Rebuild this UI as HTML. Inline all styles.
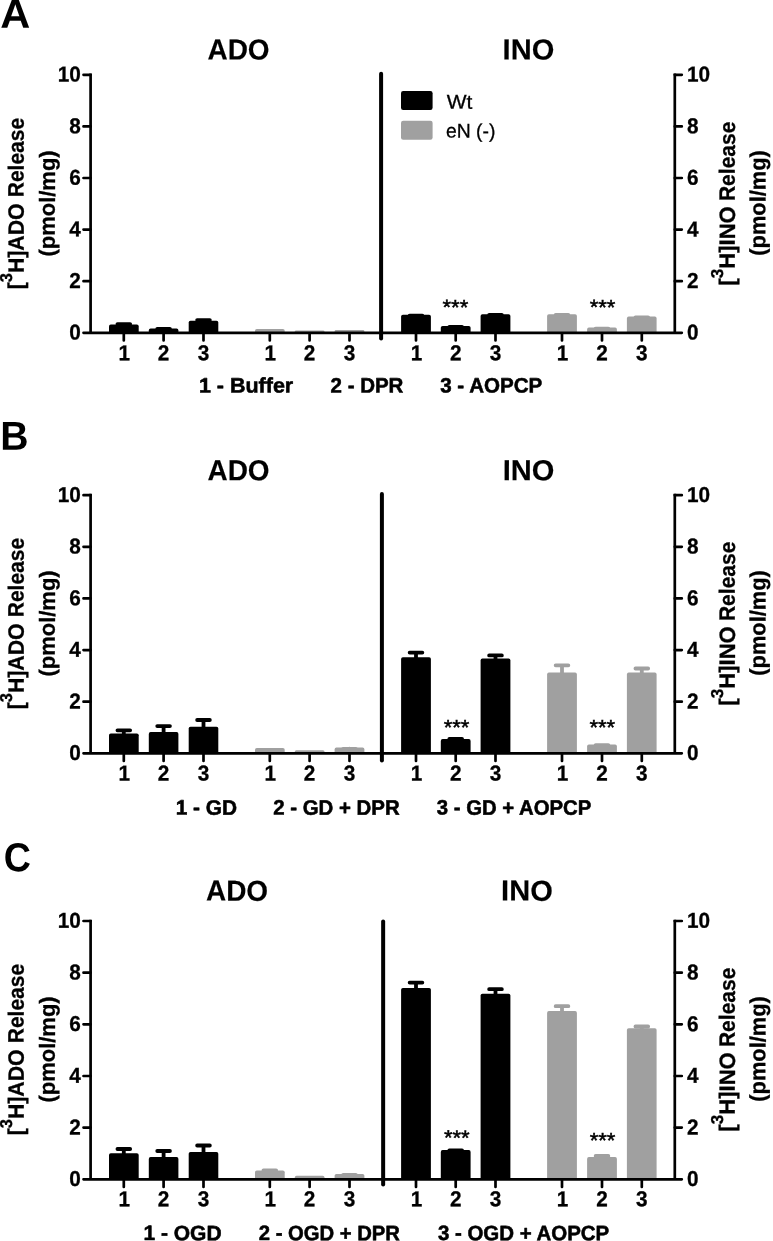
<!DOCTYPE html>
<html lang="en">
<head>
<meta charset="utf-8">
<title>Figure: ADO and INO release</title>
<style>
html,body{margin:0;padding:0;background:#fff;}
body{width:773px;height:1241px;overflow:hidden;}
svg{display:block;font-family:"Liberation Sans", sans-serif;font-weight:bold;text-rendering:geometricPrecision;}
text{fill:#000;}
.h{stroke:#000;stroke-width:0.55px;stroke-linejoin:round;}
.h2{stroke:#000;stroke-width:0.15px;}
.h3{stroke:#000;stroke-width:0.3px;stroke-linejoin:round;}
.s{stroke:#000;stroke-width:0.5px;}
.r{stroke:#000;stroke-width:0.3px;}
.t{stroke:#000;stroke-width:0.3px;}
</style>
</head>
<body>
<svg width="773" height="1241" viewBox="0 0 773 1241">
<rect width="773" height="1241" fill="#fff"/>
<g>
<text x="0.36" y="27.80" transform="rotate(0.1 0.36 27.80)" font-size="40.5" textLength="30.03" lengthAdjust="spacingAndGlyphs">A</text>
<text x="207.48" y="59.50" transform="rotate(0.1 207.48 59.50)" font-size="29.0" textLength="62.11" lengthAdjust="spacingAndGlyphs" class="h2">ADO</text>
<text x="502.64" y="59.50" transform="rotate(0.1 502.64 59.50)" font-size="29.0" textLength="51.60" lengthAdjust="spacingAndGlyphs" class="h2">INO</text>
<path d="M123.8 325.6V324.1M117.45 324.1H130.15" stroke="#000" stroke-width="3.8" stroke-linecap="round" fill="none"/>
<path d="M109.0 332.8V326.4Q109.0 324.6 110.8 324.6H136.8Q138.7 324.6 138.7 326.4V332.8Z" fill="#000"/>
<path d="M163.6 329.6V328.9M157.25 328.9H169.95" stroke="#000" stroke-width="3.8" stroke-linecap="round" fill="none"/>
<path d="M148.8 332.8V330.4Q148.8 328.6 150.6 328.6H176.6Q178.4 328.6 178.4 330.4V332.8Z" fill="#000"/>
<path d="M203.5 321.7V320.1M197.15 320.1H209.85" stroke="#000" stroke-width="3.8" stroke-linecap="round" fill="none"/>
<path d="M188.7 332.8V322.5Q188.7 320.7 190.5 320.7H216.5Q218.3 320.7 218.3 322.5V332.8Z" fill="#000"/>
<path d="M255.0 332.8V330.8Q255.0 329.0 256.8 329.0H282.9Q284.7 329.0 284.7 330.8V332.8Z" fill="#a0a0a0"/>
<path d="M294.8 332.8V331.6Q294.8 330.4 296.0 330.4H323.2Q324.5 330.4 324.5 331.6V332.8Z" fill="#a0a0a0"/>
<path d="M334.6 332.8V331.4Q334.6 330.0 336.0 330.0H363.0Q364.4 330.0 364.4 331.4V332.8Z" fill="#a0a0a0"/>
<path d="M416.0 315.8V315.6M409.65 315.6H422.35" stroke="#000" stroke-width="3.8" stroke-linecap="round" fill="none"/>
<path d="M401.1 332.8V316.6Q401.1 314.8 402.9 314.8H429.1Q430.9 314.8 430.9 316.6V332.8Z" fill="#000"/>
<path d="M455.7 327.0V326.9M449.35 326.9H462.05" stroke="#000" stroke-width="3.8" stroke-linecap="round" fill="none"/>
<path d="M440.8 332.8V327.8Q440.8 326.0 442.6 326.0H468.8Q470.6 326.0 470.6 327.8V332.8Z" fill="#000"/>
<path d="M495.5 315.2V315.0M489.15 315.0H501.85" stroke="#000" stroke-width="3.8" stroke-linecap="round" fill="none"/>
<path d="M480.6 332.8V316.0Q480.6 314.2 482.4 314.2H508.6Q510.4 314.2 510.4 316.0V332.8Z" fill="#000"/>
<path d="M562.0 315.2V315.0M555.65 315.0H568.35" stroke="#a0a0a0" stroke-width="3.8" stroke-linecap="round" fill="none"/>
<path d="M547.1 332.8V316.0Q547.1 314.2 548.9 314.2H575.1Q576.9 314.2 576.9 316.0V332.8Z" fill="#a0a0a0"/>
<path d="M602.0 328.6V328.7M595.65 328.7H608.35" stroke="#a0a0a0" stroke-width="3.8" stroke-linecap="round" fill="none"/>
<path d="M587.1 332.8V329.4Q587.1 327.6 588.9 327.6H615.1Q616.9 327.6 616.9 329.4V332.8Z" fill="#a0a0a0"/>
<path d="M641.8 317.6V317.5M635.45 317.5H648.15" stroke="#a0a0a0" stroke-width="3.8" stroke-linecap="round" fill="none"/>
<path d="M626.9 332.8V318.4Q626.9 316.6 628.7 316.6H654.9Q656.6 316.6 656.6 318.4V332.8Z" fill="#a0a0a0"/>
<path d="M90.6 73.45V332.8M674.8 73.45V332.8" stroke="#000" stroke-width="2.7" fill="none"/>
<path d="M83.5 332.8H681.8M83.5 281.2H90.6M674.8 281.2H681.8M83.5 229.6H90.6M674.8 229.6H681.8M83.5 178.0H90.6M674.8 178.0H681.8M83.5 126.4H90.6M674.8 126.4H681.8M83.5 74.8H90.6M674.8 74.8H681.8M123.8 332.8V340.4M163.6 332.8V340.4M203.5 332.8V340.4M269.8 332.8V340.4M309.6 332.8V340.4M349.5 332.8V340.4M416.0 332.8V340.4M455.7 332.8V340.4M495.5 332.8V340.4M562.0 332.8V340.4M602.0 332.8V340.4M641.8 332.8V340.4" stroke="#000" stroke-width="2.7" stroke-linecap="round" fill="none"/>
<path d="M381.1 73.8V338.6" stroke="#000" stroke-width="4" stroke-linecap="round" fill="none"/>
<text x="80.90" y="339.60" transform="rotate(0.1 80.90 339.60)" font-size="21.5" text-anchor="end" textLength="11.54" lengthAdjust="spacingAndGlyphs" class="t">0</text>
<text x="687.00" y="339.60" transform="rotate(0.1 687.00 339.60)" font-size="21.5" textLength="11.54" lengthAdjust="spacingAndGlyphs" class="t">0</text>
<text x="80.90" y="288.00" transform="rotate(0.1 80.90 288.00)" font-size="21.5" text-anchor="end" textLength="11.54" lengthAdjust="spacingAndGlyphs" class="t">2</text>
<text x="687.00" y="288.00" transform="rotate(0.1 687.00 288.00)" font-size="21.5" textLength="11.54" lengthAdjust="spacingAndGlyphs" class="t">2</text>
<text x="80.90" y="236.40" transform="rotate(0.1 80.90 236.40)" font-size="21.5" text-anchor="end" textLength="11.54" lengthAdjust="spacingAndGlyphs" class="t">4</text>
<text x="687.00" y="236.40" transform="rotate(0.1 687.00 236.40)" font-size="21.5" textLength="11.54" lengthAdjust="spacingAndGlyphs" class="t">4</text>
<text x="80.90" y="184.80" transform="rotate(0.1 80.90 184.80)" font-size="21.5" text-anchor="end" textLength="11.54" lengthAdjust="spacingAndGlyphs" class="t">6</text>
<text x="687.00" y="184.80" transform="rotate(0.1 687.00 184.80)" font-size="21.5" textLength="11.54" lengthAdjust="spacingAndGlyphs" class="t">6</text>
<text x="80.90" y="133.20" transform="rotate(0.1 80.90 133.20)" font-size="21.5" text-anchor="end" textLength="11.54" lengthAdjust="spacingAndGlyphs" class="t">8</text>
<text x="687.00" y="133.20" transform="rotate(0.1 687.00 133.20)" font-size="21.5" textLength="11.54" lengthAdjust="spacingAndGlyphs" class="t">8</text>
<text x="80.90" y="81.60" transform="rotate(0.1 80.90 81.60)" font-size="21.5" text-anchor="end" textLength="23.08" lengthAdjust="spacingAndGlyphs" class="t">10</text>
<text x="687.00" y="81.60" transform="rotate(0.1 687.00 81.60)" font-size="21.5" textLength="23.08" lengthAdjust="spacingAndGlyphs" class="t">10</text>
<text x="124.20" y="360.20" transform="rotate(0.1 124.20 360.20)" font-size="21.5" text-anchor="middle" textLength="11.54" lengthAdjust="spacingAndGlyphs" class="t">1</text>
<text x="163.60" y="360.20" transform="rotate(0.1 163.60 360.20)" font-size="21.5" text-anchor="middle" textLength="11.54" lengthAdjust="spacingAndGlyphs" class="t">2</text>
<text x="203.50" y="360.20" transform="rotate(0.1 203.50 360.20)" font-size="21.5" text-anchor="middle" textLength="11.54" lengthAdjust="spacingAndGlyphs" class="t">3</text>
<text x="270.20" y="360.20" transform="rotate(0.1 270.20 360.20)" font-size="21.5" text-anchor="middle" textLength="11.54" lengthAdjust="spacingAndGlyphs" class="t">1</text>
<text x="309.60" y="360.20" transform="rotate(0.1 309.60 360.20)" font-size="21.5" text-anchor="middle" textLength="11.54" lengthAdjust="spacingAndGlyphs" class="t">2</text>
<text x="349.50" y="360.20" transform="rotate(0.1 349.50 360.20)" font-size="21.5" text-anchor="middle" textLength="11.54" lengthAdjust="spacingAndGlyphs" class="t">3</text>
<text x="416.40" y="360.20" transform="rotate(0.1 416.40 360.20)" font-size="21.5" text-anchor="middle" textLength="11.54" lengthAdjust="spacingAndGlyphs" class="t">1</text>
<text x="455.70" y="360.20" transform="rotate(0.1 455.70 360.20)" font-size="21.5" text-anchor="middle" textLength="11.54" lengthAdjust="spacingAndGlyphs" class="t">2</text>
<text x="495.50" y="360.20" transform="rotate(0.1 495.50 360.20)" font-size="21.5" text-anchor="middle" textLength="11.54" lengthAdjust="spacingAndGlyphs" class="t">3</text>
<text x="562.40" y="360.20" transform="rotate(0.1 562.40 360.20)" font-size="21.5" text-anchor="middle" textLength="11.54" lengthAdjust="spacingAndGlyphs" class="t">1</text>
<text x="602.00" y="360.20" transform="rotate(0.1 602.00 360.20)" font-size="21.5" text-anchor="middle" textLength="11.54" lengthAdjust="spacingAndGlyphs" class="t">2</text>
<text x="641.80" y="360.20" transform="rotate(0.1 641.80 360.20)" font-size="21.5" text-anchor="middle" textLength="11.54" lengthAdjust="spacingAndGlyphs" class="t">3</text>
<text x="198.92" y="392.40" transform="rotate(0.1 198.92 392.40)" font-size="20.9" textLength="94.33" lengthAdjust="spacingAndGlyphs" class="h">1 - Buffer</text>
<text x="330.56" y="392.40" transform="rotate(0.1 330.56 392.40)" font-size="20.9" textLength="72.88" lengthAdjust="spacingAndGlyphs" class="h">2 - DPR</text>
<text x="440.21" y="392.40" transform="rotate(0.1 440.21 392.40)" font-size="20.9" textLength="102.02" lengthAdjust="spacingAndGlyphs" class="h">3 - AOPCP</text>
<text x="455.40" y="314.40" transform="rotate(0.1 455.40 314.40)" font-size="21" font-weight="normal" text-anchor="middle" textLength="25.70" lengthAdjust="spacingAndGlyphs" class="s">***</text>
<text x="602.60" y="314.40" transform="rotate(0.1 602.60 314.40)" font-size="21" font-weight="normal" text-anchor="middle" textLength="25.70" lengthAdjust="spacingAndGlyphs" class="s">***</text>
<text transform="translate(23.6 288.3) rotate(-89.9)" x="-1.04" class="h3" font-size="22.2" textLength="85.89" lengthAdjust="spacingAndGlyphs">[<tspan font-size="17.2" dy="-11.7">3</tspan><tspan dy="11.7">H]ADO</tspan></text>
<text transform="translate(23.6 196.0) rotate(-89.9)" x="-1.25" class="h3" font-size="22.2" textLength="79.32" lengthAdjust="spacingAndGlyphs">Release</text>
<text transform="translate(54.8 255.6) rotate(-89.9)" x="-0.94" class="h3" font-size="22.2" textLength="106.19" lengthAdjust="spacingAndGlyphs">(pmol/mg)</text>
<text transform="translate(734.8 284.4) rotate(-89.9)" x="-1.09" class="h3" font-size="22.2" textLength="79.16" lengthAdjust="spacingAndGlyphs">[<tspan font-size="17.2" dy="-11.7">3</tspan><tspan dy="11.7">H]INO</tspan></text>
<text transform="translate(734.8 199.8) rotate(-89.9)" x="-1.26" class="h3" font-size="22.2" textLength="79.42" lengthAdjust="spacingAndGlyphs">Release</text>
<text transform="translate(765.3 254.7) rotate(-89.9)" x="-0.94" class="h3" font-size="22.2" textLength="105.37" lengthAdjust="spacingAndGlyphs">(pmol/mg)</text>
</g>
<g>
<text x="0.33" y="449.70" transform="rotate(0.1 0.33 449.70)" font-size="40.5" textLength="28.24" lengthAdjust="spacingAndGlyphs">B</text>
<text x="207.48" y="480.20" transform="rotate(0.1 207.48 480.20)" font-size="29.0" textLength="62.11" lengthAdjust="spacingAndGlyphs" class="h2">ADO</text>
<text x="502.64" y="480.20" transform="rotate(0.1 502.64 480.20)" font-size="29.0" textLength="51.60" lengthAdjust="spacingAndGlyphs" class="h2">INO</text>
<path d="M123.8 734.5V730.3M117.45 730.3H130.15" stroke="#000" stroke-width="3.8" stroke-linecap="round" fill="none"/>
<path d="M109.0 753.3V735.3Q109.0 733.5 110.8 733.5H136.8Q138.7 733.5 138.7 735.3V753.3Z" fill="#000"/>
<path d="M163.6 733.1V726.1M157.25 726.1H169.95" stroke="#000" stroke-width="3.8" stroke-linecap="round" fill="none"/>
<path d="M148.8 753.3V733.9Q148.8 732.1 150.6 732.1H176.6Q178.4 732.1 178.4 733.9V753.3Z" fill="#000"/>
<path d="M203.5 727.8V720.0M197.15 720.0H209.85" stroke="#000" stroke-width="3.8" stroke-linecap="round" fill="none"/>
<path d="M188.7 753.3V728.6Q188.7 726.8 190.5 726.8H216.5Q218.3 726.8 218.3 728.6V753.3Z" fill="#000"/>
<path d="M255.0 753.3V749.8Q255.0 748.0 256.8 748.0H282.9Q284.7 748.0 284.7 749.8V753.3Z" fill="#a0a0a0"/>
<path d="M294.8 753.3V751.8Q294.8 750.3 296.2 750.3H323.0Q324.5 750.3 324.5 751.8V753.3Z" fill="#a0a0a0"/>
<path d="M349.5 748.6V748.9M343.15 748.9H355.85" stroke="#a0a0a0" stroke-width="3.8" stroke-linecap="round" fill="none"/>
<path d="M334.6 753.3V749.4Q334.6 747.6 336.4 747.6H362.6Q364.4 747.6 364.4 749.4V753.3Z" fill="#a0a0a0"/>
<path d="M416.0 658.2V652.6M409.65 652.6H422.35" stroke="#000" stroke-width="3.8" stroke-linecap="round" fill="none"/>
<path d="M401.1 753.3V659.0Q401.1 657.2 402.9 657.2H429.1Q430.9 657.2 430.9 659.0V753.3Z" fill="#000"/>
<path d="M455.7 740.1V738.8M449.35 738.8H462.05" stroke="#000" stroke-width="3.8" stroke-linecap="round" fill="none"/>
<path d="M440.8 753.3V740.9Q440.8 739.1 442.6 739.1H468.8Q470.6 739.1 470.6 740.9V753.3Z" fill="#000"/>
<path d="M495.5 659.6V655.4M489.15 655.4H501.85" stroke="#000" stroke-width="3.8" stroke-linecap="round" fill="none"/>
<path d="M480.6 753.3V660.4Q480.6 658.6 482.4 658.6H508.6Q510.4 658.6 510.4 660.4V753.3Z" fill="#000"/>
<path d="M562.0 673.6V665.3M555.65 665.3H568.35" stroke="#a0a0a0" stroke-width="3.8" stroke-linecap="round" fill="none"/>
<path d="M547.1 753.3V674.4Q547.1 672.6 548.9 672.6H575.1Q576.9 672.6 576.9 674.4V753.3Z" fill="#a0a0a0"/>
<path d="M602.0 745.5V745.1M595.65 745.1H608.35" stroke="#a0a0a0" stroke-width="3.8" stroke-linecap="round" fill="none"/>
<path d="M587.1 753.3V746.3Q587.1 744.5 588.9 744.5H615.1Q616.9 744.5 616.9 746.3V753.3Z" fill="#a0a0a0"/>
<path d="M641.8 673.6V668.5M635.45 668.5H648.15" stroke="#a0a0a0" stroke-width="3.8" stroke-linecap="round" fill="none"/>
<path d="M626.9 753.3V674.4Q626.9 672.6 628.7 672.6H654.9Q656.6 672.6 656.6 674.4V753.3Z" fill="#a0a0a0"/>
<path d="M90.6 493.85V753.3M674.8 493.85V753.3" stroke="#000" stroke-width="2.7" fill="none"/>
<path d="M83.5 753.3H681.8M83.5 701.7H90.6M674.8 701.7H681.8M83.5 650.1H90.6M674.8 650.1H681.8M83.5 598.4H90.6M674.8 598.4H681.8M83.5 546.8H90.6M674.8 546.8H681.8M83.5 495.2H90.6M674.8 495.2H681.8M123.8 753.3V760.9M163.6 753.3V760.9M203.5 753.3V760.9M269.8 753.3V760.9M309.6 753.3V760.9M349.5 753.3V760.9M416.0 753.3V760.9M455.7 753.3V760.9M495.5 753.3V760.9M562.0 753.3V760.9M602.0 753.3V760.9M641.8 753.3V760.9" stroke="#000" stroke-width="2.7" stroke-linecap="round" fill="none"/>
<path d="M381.9 494.0V760.5" stroke="#000" stroke-width="4" stroke-linecap="round" fill="none"/>
<text x="80.90" y="760.10" transform="rotate(0.1 80.90 760.10)" font-size="21.5" text-anchor="end" textLength="11.54" lengthAdjust="spacingAndGlyphs" class="t">0</text>
<text x="687.00" y="760.10" transform="rotate(0.1 687.00 760.10)" font-size="21.5" textLength="11.54" lengthAdjust="spacingAndGlyphs" class="t">0</text>
<text x="80.90" y="708.48" transform="rotate(0.1 80.90 708.48)" font-size="21.5" text-anchor="end" textLength="11.54" lengthAdjust="spacingAndGlyphs" class="t">2</text>
<text x="687.00" y="708.48" transform="rotate(0.1 687.00 708.48)" font-size="21.5" textLength="11.54" lengthAdjust="spacingAndGlyphs" class="t">2</text>
<text x="80.90" y="656.86" transform="rotate(0.1 80.90 656.86)" font-size="21.5" text-anchor="end" textLength="11.54" lengthAdjust="spacingAndGlyphs" class="t">4</text>
<text x="687.00" y="656.86" transform="rotate(0.1 687.00 656.86)" font-size="21.5" textLength="11.54" lengthAdjust="spacingAndGlyphs" class="t">4</text>
<text x="80.90" y="605.24" transform="rotate(0.1 80.90 605.24)" font-size="21.5" text-anchor="end" textLength="11.54" lengthAdjust="spacingAndGlyphs" class="t">6</text>
<text x="687.00" y="605.24" transform="rotate(0.1 687.00 605.24)" font-size="21.5" textLength="11.54" lengthAdjust="spacingAndGlyphs" class="t">6</text>
<text x="80.90" y="553.62" transform="rotate(0.1 80.90 553.62)" font-size="21.5" text-anchor="end" textLength="11.54" lengthAdjust="spacingAndGlyphs" class="t">8</text>
<text x="687.00" y="553.62" transform="rotate(0.1 687.00 553.62)" font-size="21.5" textLength="11.54" lengthAdjust="spacingAndGlyphs" class="t">8</text>
<text x="80.90" y="502.00" transform="rotate(0.1 80.90 502.00)" font-size="21.5" text-anchor="end" textLength="23.08" lengthAdjust="spacingAndGlyphs" class="t">10</text>
<text x="687.00" y="502.00" transform="rotate(0.1 687.00 502.00)" font-size="21.5" textLength="23.08" lengthAdjust="spacingAndGlyphs" class="t">10</text>
<text x="124.20" y="780.50" transform="rotate(0.1 124.20 780.50)" font-size="21.5" text-anchor="middle" textLength="11.54" lengthAdjust="spacingAndGlyphs" class="t">1</text>
<text x="163.60" y="780.50" transform="rotate(0.1 163.60 780.50)" font-size="21.5" text-anchor="middle" textLength="11.54" lengthAdjust="spacingAndGlyphs" class="t">2</text>
<text x="203.50" y="780.50" transform="rotate(0.1 203.50 780.50)" font-size="21.5" text-anchor="middle" textLength="11.54" lengthAdjust="spacingAndGlyphs" class="t">3</text>
<text x="270.20" y="780.50" transform="rotate(0.1 270.20 780.50)" font-size="21.5" text-anchor="middle" textLength="11.54" lengthAdjust="spacingAndGlyphs" class="t">1</text>
<text x="309.60" y="780.50" transform="rotate(0.1 309.60 780.50)" font-size="21.5" text-anchor="middle" textLength="11.54" lengthAdjust="spacingAndGlyphs" class="t">2</text>
<text x="349.50" y="780.50" transform="rotate(0.1 349.50 780.50)" font-size="21.5" text-anchor="middle" textLength="11.54" lengthAdjust="spacingAndGlyphs" class="t">3</text>
<text x="416.40" y="780.50" transform="rotate(0.1 416.40 780.50)" font-size="21.5" text-anchor="middle" textLength="11.54" lengthAdjust="spacingAndGlyphs" class="t">1</text>
<text x="455.70" y="780.50" transform="rotate(0.1 455.70 780.50)" font-size="21.5" text-anchor="middle" textLength="11.54" lengthAdjust="spacingAndGlyphs" class="t">2</text>
<text x="495.50" y="780.50" transform="rotate(0.1 495.50 780.50)" font-size="21.5" text-anchor="middle" textLength="11.54" lengthAdjust="spacingAndGlyphs" class="t">3</text>
<text x="562.40" y="780.50" transform="rotate(0.1 562.40 780.50)" font-size="21.5" text-anchor="middle" textLength="11.54" lengthAdjust="spacingAndGlyphs" class="t">1</text>
<text x="602.00" y="780.50" transform="rotate(0.1 602.00 780.50)" font-size="21.5" text-anchor="middle" textLength="11.54" lengthAdjust="spacingAndGlyphs" class="t">2</text>
<text x="641.80" y="780.50" transform="rotate(0.1 641.80 780.50)" font-size="21.5" text-anchor="middle" textLength="11.54" lengthAdjust="spacingAndGlyphs" class="t">3</text>
<text x="175.66" y="814.60" transform="rotate(0.1 175.66 814.60)" font-size="20.9" textLength="61.34" lengthAdjust="spacingAndGlyphs" class="h">1 - GD</text>
<text x="273.27" y="814.60" transform="rotate(0.1 273.27 814.60)" font-size="20.9" textLength="126.38" lengthAdjust="spacingAndGlyphs" class="h">2 - GD + DPR</text>
<text x="436.81" y="814.60" transform="rotate(0.1 436.81 814.60)" font-size="20.9" textLength="154.40" lengthAdjust="spacingAndGlyphs" class="h">3 - GD + AOPCP</text>
<text x="456.50" y="734.55" transform="rotate(0.1 456.50 734.55)" font-size="21" font-weight="normal" text-anchor="middle" textLength="25.70" lengthAdjust="spacingAndGlyphs" class="s">***</text>
<text x="602.30" y="734.55" transform="rotate(0.1 602.30 734.55)" font-size="21" font-weight="normal" text-anchor="middle" textLength="25.70" lengthAdjust="spacingAndGlyphs" class="s">***</text>
<text transform="translate(23.6 708.3) rotate(-89.9)" x="-1.04" class="h3" font-size="22.2" textLength="85.89" lengthAdjust="spacingAndGlyphs">[<tspan font-size="17.2" dy="-11.7">3</tspan><tspan dy="11.7">H]ADO</tspan></text>
<text transform="translate(23.6 616.0) rotate(-89.9)" x="-1.25" class="h3" font-size="22.2" textLength="79.32" lengthAdjust="spacingAndGlyphs">Release</text>
<text transform="translate(54.8 675.6) rotate(-89.9)" x="-0.94" class="h3" font-size="22.2" textLength="106.19" lengthAdjust="spacingAndGlyphs">(pmol/mg)</text>
<text transform="translate(734.8 704.4) rotate(-89.9)" x="-1.09" class="h3" font-size="22.2" textLength="79.16" lengthAdjust="spacingAndGlyphs">[<tspan font-size="17.2" dy="-11.7">3</tspan><tspan dy="11.7">H]INO</tspan></text>
<text transform="translate(734.8 619.8) rotate(-89.9)" x="-1.26" class="h3" font-size="22.2" textLength="79.42" lengthAdjust="spacingAndGlyphs">Release</text>
<text transform="translate(765.3 674.7) rotate(-89.9)" x="-0.94" class="h3" font-size="22.2" textLength="105.37" lengthAdjust="spacingAndGlyphs">(pmol/mg)</text>
</g>
<g>
<text x="3.76" y="871.30" transform="rotate(0.1 3.76 871.30)" font-size="40.5" textLength="27.17" lengthAdjust="spacingAndGlyphs">C</text>
<text x="205.98" y="900.60" transform="rotate(0.1 205.98 900.60)" font-size="29.0" textLength="62.11" lengthAdjust="spacingAndGlyphs" class="h2">ADO</text>
<text x="501.14" y="900.60" transform="rotate(0.1 501.14 900.60)" font-size="29.0" textLength="51.60" lengthAdjust="spacingAndGlyphs" class="h2">INO</text>
<path d="M123.8 1154.3V1149.0M117.45 1149.0H130.15" stroke="#000" stroke-width="3.8" stroke-linecap="round" fill="none"/>
<path d="M109.0 1179.3V1155.1Q109.0 1153.3 110.8 1153.3H136.8Q138.7 1153.3 138.7 1155.1V1179.3Z" fill="#000"/>
<path d="M163.6 1158.1V1151.0M157.25 1151.0H169.95" stroke="#000" stroke-width="3.8" stroke-linecap="round" fill="none"/>
<path d="M148.8 1179.3V1158.9Q148.8 1157.1 150.6 1157.1H176.6Q178.4 1157.1 178.4 1158.9V1179.3Z" fill="#000"/>
<path d="M203.5 1152.9V1145.5M197.15 1145.5H209.85" stroke="#000" stroke-width="3.8" stroke-linecap="round" fill="none"/>
<path d="M188.7 1179.3V1153.7Q188.7 1151.9 190.5 1151.9H216.5Q218.3 1151.9 218.3 1153.7V1179.3Z" fill="#000"/>
<path d="M269.8 1171.5V1170.3M263.45 1170.3H276.15" stroke="#a0a0a0" stroke-width="3.8" stroke-linecap="round" fill="none"/>
<path d="M255.0 1179.3V1172.3Q255.0 1170.5 256.8 1170.5H282.9Q284.7 1170.5 284.7 1172.3V1179.3Z" fill="#a0a0a0"/>
<path d="M294.8 1179.3V1177.5Q294.8 1175.7 296.5 1175.7H322.7Q324.5 1175.7 324.5 1177.5V1179.3Z" fill="#a0a0a0"/>
<path d="M349.5 1175.0V1174.9M343.15 1174.9H355.85" stroke="#a0a0a0" stroke-width="3.8" stroke-linecap="round" fill="none"/>
<path d="M334.6 1179.3V1175.8Q334.6 1174.0 336.4 1174.0H362.6Q364.4 1174.0 364.4 1175.8V1179.3Z" fill="#a0a0a0"/>
<path d="M416.0 989.0V982.6M409.65 982.6H422.35" stroke="#000" stroke-width="3.8" stroke-linecap="round" fill="none"/>
<path d="M401.1 1179.3V989.8Q401.1 988.0 402.9 988.0H429.1Q430.9 988.0 430.9 989.8V1179.3Z" fill="#000"/>
<path d="M455.7 1151.1V1150.3M449.35 1150.3H462.05" stroke="#000" stroke-width="3.8" stroke-linecap="round" fill="none"/>
<path d="M440.8 1179.3V1151.9Q440.8 1150.1 442.6 1150.1H468.8Q470.6 1150.1 470.6 1151.9V1179.3Z" fill="#000"/>
<path d="M495.5 994.8V989.2M489.15 989.2H501.85" stroke="#000" stroke-width="3.8" stroke-linecap="round" fill="none"/>
<path d="M480.6 1179.3V995.5Q480.6 993.8 482.4 993.8H508.6Q510.4 993.8 510.4 995.5V1179.3Z" fill="#000"/>
<path d="M562.0 1012.1V1006.2M555.65 1006.2H568.35" stroke="#a0a0a0" stroke-width="3.8" stroke-linecap="round" fill="none"/>
<path d="M547.1 1179.3V1012.9Q547.1 1011.1 548.9 1011.1H575.1Q576.9 1011.1 576.9 1012.9V1179.3Z" fill="#a0a0a0"/>
<path d="M602.0 1158.1V1156.0M595.65 1156.0H608.35" stroke="#a0a0a0" stroke-width="3.8" stroke-linecap="round" fill="none"/>
<path d="M587.1 1179.3V1158.9Q587.1 1157.1 588.9 1157.1H615.1Q616.9 1157.1 616.9 1158.9V1179.3Z" fill="#a0a0a0"/>
<path d="M641.8 1029.3V1026.5M635.45 1026.5H648.15" stroke="#a0a0a0" stroke-width="3.8" stroke-linecap="round" fill="none"/>
<path d="M626.9 1179.3V1030.1Q626.9 1028.3 628.7 1028.3H654.9Q656.6 1028.3 656.6 1030.1V1179.3Z" fill="#a0a0a0"/>
<path d="M90.6 919.70V1179.3M674.8 919.70V1179.3" stroke="#000" stroke-width="2.7" fill="none"/>
<path d="M83.5 1179.3H681.8M83.5 1127.6H90.6M674.8 1127.6H681.8M83.5 1076.0H90.6M674.8 1076.0H681.8M83.5 1024.3H90.6M674.8 1024.3H681.8M83.5 972.7H90.6M674.8 972.7H681.8M83.5 921.0H90.6M674.8 921.0H681.8M123.8 1179.3V1187.0M163.6 1179.3V1187.0M203.5 1179.3V1187.0M269.8 1179.3V1187.0M309.6 1179.3V1187.0M349.5 1179.3V1187.0M416.0 1179.3V1187.0M455.7 1179.3V1187.0M495.5 1179.3V1187.0M562.0 1179.3V1187.0M602.0 1179.3V1187.0M641.8 1179.3V1187.0" stroke="#000" stroke-width="2.7" stroke-linecap="round" fill="none"/>
<path d="M383.15 921.4V1184.6" stroke="#000" stroke-width="4" stroke-linecap="round" fill="none"/>
<text x="80.90" y="1186.10" transform="rotate(0.1 80.90 1186.10)" font-size="21.5" text-anchor="end" textLength="11.54" lengthAdjust="spacingAndGlyphs" class="t">0</text>
<text x="687.00" y="1186.10" transform="rotate(0.1 687.00 1186.10)" font-size="21.5" textLength="11.54" lengthAdjust="spacingAndGlyphs" class="t">0</text>
<text x="80.90" y="1134.45" transform="rotate(0.1 80.90 1134.45)" font-size="21.5" text-anchor="end" textLength="11.54" lengthAdjust="spacingAndGlyphs" class="t">2</text>
<text x="687.00" y="1134.45" transform="rotate(0.1 687.00 1134.45)" font-size="21.5" textLength="11.54" lengthAdjust="spacingAndGlyphs" class="t">2</text>
<text x="80.90" y="1082.80" transform="rotate(0.1 80.90 1082.80)" font-size="21.5" text-anchor="end" textLength="11.54" lengthAdjust="spacingAndGlyphs" class="t">4</text>
<text x="687.00" y="1082.80" transform="rotate(0.1 687.00 1082.80)" font-size="21.5" textLength="11.54" lengthAdjust="spacingAndGlyphs" class="t">4</text>
<text x="80.90" y="1031.15" transform="rotate(0.1 80.90 1031.15)" font-size="21.5" text-anchor="end" textLength="11.54" lengthAdjust="spacingAndGlyphs" class="t">6</text>
<text x="687.00" y="1031.15" transform="rotate(0.1 687.00 1031.15)" font-size="21.5" textLength="11.54" lengthAdjust="spacingAndGlyphs" class="t">6</text>
<text x="80.90" y="979.50" transform="rotate(0.1 80.90 979.50)" font-size="21.5" text-anchor="end" textLength="11.54" lengthAdjust="spacingAndGlyphs" class="t">8</text>
<text x="687.00" y="979.50" transform="rotate(0.1 687.00 979.50)" font-size="21.5" textLength="11.54" lengthAdjust="spacingAndGlyphs" class="t">8</text>
<text x="80.90" y="927.85" transform="rotate(0.1 80.90 927.85)" font-size="21.5" text-anchor="end" textLength="23.08" lengthAdjust="spacingAndGlyphs" class="t">10</text>
<text x="687.00" y="927.85" transform="rotate(0.1 687.00 927.85)" font-size="21.5" textLength="23.08" lengthAdjust="spacingAndGlyphs" class="t">10</text>
<text x="124.20" y="1206.30" transform="rotate(0.1 124.20 1206.30)" font-size="21.5" text-anchor="middle" textLength="11.54" lengthAdjust="spacingAndGlyphs" class="t">1</text>
<text x="163.60" y="1206.30" transform="rotate(0.1 163.60 1206.30)" font-size="21.5" text-anchor="middle" textLength="11.54" lengthAdjust="spacingAndGlyphs" class="t">2</text>
<text x="203.50" y="1206.30" transform="rotate(0.1 203.50 1206.30)" font-size="21.5" text-anchor="middle" textLength="11.54" lengthAdjust="spacingAndGlyphs" class="t">3</text>
<text x="270.20" y="1206.30" transform="rotate(0.1 270.20 1206.30)" font-size="21.5" text-anchor="middle" textLength="11.54" lengthAdjust="spacingAndGlyphs" class="t">1</text>
<text x="309.60" y="1206.30" transform="rotate(0.1 309.60 1206.30)" font-size="21.5" text-anchor="middle" textLength="11.54" lengthAdjust="spacingAndGlyphs" class="t">2</text>
<text x="349.50" y="1206.30" transform="rotate(0.1 349.50 1206.30)" font-size="21.5" text-anchor="middle" textLength="11.54" lengthAdjust="spacingAndGlyphs" class="t">3</text>
<text x="416.40" y="1206.30" transform="rotate(0.1 416.40 1206.30)" font-size="21.5" text-anchor="middle" textLength="11.54" lengthAdjust="spacingAndGlyphs" class="t">1</text>
<text x="455.70" y="1206.30" transform="rotate(0.1 455.70 1206.30)" font-size="21.5" text-anchor="middle" textLength="11.54" lengthAdjust="spacingAndGlyphs" class="t">2</text>
<text x="495.50" y="1206.30" transform="rotate(0.1 495.50 1206.30)" font-size="21.5" text-anchor="middle" textLength="11.54" lengthAdjust="spacingAndGlyphs" class="t">3</text>
<text x="562.40" y="1206.30" transform="rotate(0.1 562.40 1206.30)" font-size="21.5" text-anchor="middle" textLength="11.54" lengthAdjust="spacingAndGlyphs" class="t">1</text>
<text x="602.00" y="1206.30" transform="rotate(0.1 602.00 1206.30)" font-size="21.5" text-anchor="middle" textLength="11.54" lengthAdjust="spacingAndGlyphs" class="t">2</text>
<text x="641.80" y="1206.30" transform="rotate(0.1 641.80 1206.30)" font-size="21.5" text-anchor="middle" textLength="11.54" lengthAdjust="spacingAndGlyphs" class="t">3</text>
<text x="143.45" y="1240.10" transform="rotate(0.1 143.45 1240.10)" font-size="20.9" textLength="78.15" lengthAdjust="spacingAndGlyphs" class="h">1 - OGD</text>
<text x="258.87" y="1240.10" transform="rotate(0.1 258.87 1240.10)" font-size="20.9" textLength="141.07" lengthAdjust="spacingAndGlyphs" class="h">2 - OGD + DPR</text>
<text x="437.91" y="1240.10" transform="rotate(0.1 437.91 1240.10)" font-size="20.9" textLength="171.31" lengthAdjust="spacingAndGlyphs" class="h">3 - OGD + AOPCP</text>
<text x="456.80" y="1144.90" transform="rotate(0.1 456.80 1144.90)" font-size="21" font-weight="normal" text-anchor="middle" textLength="25.70" lengthAdjust="spacingAndGlyphs" class="s">***</text>
<text x="602.50" y="1147.60" transform="rotate(0.1 602.50 1147.60)" font-size="21" font-weight="normal" text-anchor="middle" textLength="25.70" lengthAdjust="spacingAndGlyphs" class="s">***</text>
<text transform="translate(23.6 1134.3) rotate(-89.9)" x="-1.04" class="h3" font-size="22.2" textLength="85.89" lengthAdjust="spacingAndGlyphs">[<tspan font-size="17.2" dy="-11.7">3</tspan><tspan dy="11.7">H]ADO</tspan></text>
<text transform="translate(23.6 1042.0) rotate(-89.9)" x="-1.25" class="h3" font-size="22.2" textLength="79.32" lengthAdjust="spacingAndGlyphs">Release</text>
<text transform="translate(54.8 1101.6) rotate(-89.9)" x="-0.94" class="h3" font-size="22.2" textLength="106.19" lengthAdjust="spacingAndGlyphs">(pmol/mg)</text>
<text transform="translate(734.8 1130.4) rotate(-89.9)" x="-1.09" class="h3" font-size="22.2" textLength="79.16" lengthAdjust="spacingAndGlyphs">[<tspan font-size="17.2" dy="-11.7">3</tspan><tspan dy="11.7">H]INO</tspan></text>
<text transform="translate(734.8 1045.8) rotate(-89.9)" x="-1.26" class="h3" font-size="22.2" textLength="79.42" lengthAdjust="spacingAndGlyphs">Release</text>
<text transform="translate(765.3 1100.7) rotate(-89.9)" x="-0.94" class="h3" font-size="22.2" textLength="105.37" lengthAdjust="spacingAndGlyphs">(pmol/mg)</text>
</g>
<rect x="401" y="91" width="31.6" height="19" rx="2.2" fill="#000"/>
<rect x="401" y="120.8" width="31.6" height="19" rx="2.2" fill="#a0a0a0"/>
<text x="446.71" y="108.60" transform="rotate(0.1 446.71 108.60)" font-size="19.8" font-weight="normal" textLength="25.65" lengthAdjust="spacingAndGlyphs" class="r">Wt</text>
<text x="445.98" y="137.60" transform="rotate(0.1 445.98 137.60)" font-size="19.8" font-weight="normal" textLength="49.42" lengthAdjust="spacingAndGlyphs" class="r">eN (-)</text>
</svg>
</body>
</html>
